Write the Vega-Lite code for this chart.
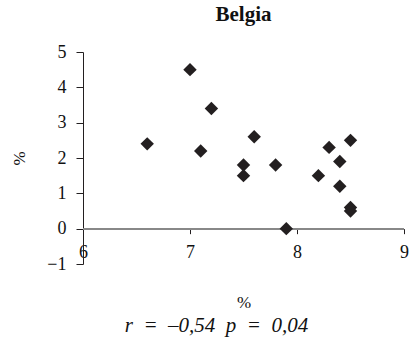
{
  "$schema": "https://vega.github.io/schema/vega-lite/v6.json",
  "width": 321,
  "height": 212,
  "autosize": {"type": "none"},
  "padding": {"left": 83, "top": 52, "right": 9, "bottom": 80},
  "background": "white",
  "config": {
    "view": {"stroke": null},
    "font": "Liberation Serif",
    "text": {"font": "Liberation Serif"},
    "axis": {"grid": false, "labelFont": "Liberation Serif", "titleFont": "Liberation Serif", "labelColor": "#111", "titleColor": "#111"}
  },
  "title": {
    "text": "Belgia",
    "font": "Liberation Serif",
    "fontSize": 21,
    "fontWeight": "bold",
    "color": "#111",
    "anchor": "middle",
    "baseline": "alphabetic",
    "offset": 1
  },
  "data": {
    "values": [
      {"x": 6.6, "y": 2.4},
      {"x": 7.0, "y": 4.5},
      {"x": 7.1, "y": 2.2},
      {"x": 7.2, "y": 3.4},
      {"x": 7.5, "y": 1.8},
      {"x": 7.5, "y": 1.5},
      {"x": 7.6, "y": 2.6},
      {"x": 7.8, "y": 1.8},
      {"x": 7.9, "y": 0.0},
      {"x": 8.2, "y": 1.5},
      {"x": 8.3, "y": 2.3},
      {"x": 8.4, "y": 1.9},
      {"x": 8.4, "y": 1.2},
      {"x": 8.5, "y": 2.5},
      {"x": 8.5, "y": 0.6},
      {"x": 8.5, "y": 0.5}
    ]
  },
  "resolve": {"axis": {"x": "independent", "y": "independent"}},
  "layer": [
    {
      "mark": {"type": "rule", "color": "#888888", "strokeWidth": 1.5},
      "encoding": {
        "x": {
          "datum": 6,
          "type": "quantitative",
          "scale": {"domain": [6, 9], "nice": false, "zero": false},
          "axis": {
            "orient": "bottom",
            "domain": false,
            "ticks": false,
            "labels": false,
            "title": "r \u00a0= \u00a0–0,54 \u00a0p \u00a0= \u00a00,04",
            "titleFont": "Liberation Serif",
            "titleFontSize": 21,
            "titleFontStyle": "italic",
            "titleFontWeight": "normal",
            "titleX": 133,
            "titleY": 61,
            "titleAlign": "center",
            "titleBaseline": "middle"
          }
        },
        "x2": {"datum": 9},
        "y": {
          "datum": 0,
          "type": "quantitative",
          "scale": {"domain": [-1, 5], "nice": false},
          "axis": null
        }
      }
    },
    {
      "mark": {"type": "point", "shape": "diamond", "filled": true, "size": 180, "color": "#231f20", "opacity": 1},
      "encoding": {
        "x": {
          "field": "x",
          "type": "quantitative",
          "scale": {"domain": [6, 9], "nice": false, "zero": false},
          "axis": {
            "orient": "bottom",
            "offset": -35.33,
            "values": [6, 7, 8, 9],
            "domain": false,
            "ticks": true,
            "tickSize": 5,
            "tickColor": "#231f20",
            "labelFont": "Liberation Serif",
            "labelFontSize": 18,
            "labelPadding": 10,
            "labelFlush": false,
            "labelOverlap": false,
            "title": "%",
            "titleFont": "Liberation Serif",
            "titleFontSize": 17,
            "titleFontWeight": "normal",
            "titleY": 74,
            "titleBaseline": "middle"
          }
        },
        "y": {
          "field": "y",
          "type": "quantitative",
          "scale": {"domain": [-1, 5], "nice": false},
          "axis": {
            "orient": "left",
            "values": [-1, 0, 1, 2, 3, 4, 5],
            "domain": true,
            "domainColor": "#231f20",
            "ticks": true,
            "tickColor": "#231f20",
            "tickSize": 7,
            "labelFont": "Liberation Serif",
            "labelFontSize": 18,
            "labelPadding": 10,
            "labelFlush": false,
            "labelOverlap": false,
            "title": "%",
            "titleFont": "Liberation Serif",
            "titleFontSize": 17,
            "titleFontWeight": "normal",
            "titleX": -64,
            "titleY": 106,
            "titleAngle": -90,
            "titleAlign": "center",
            "titleBaseline": "middle"
          }
        }
      }
    }
  ]
}
